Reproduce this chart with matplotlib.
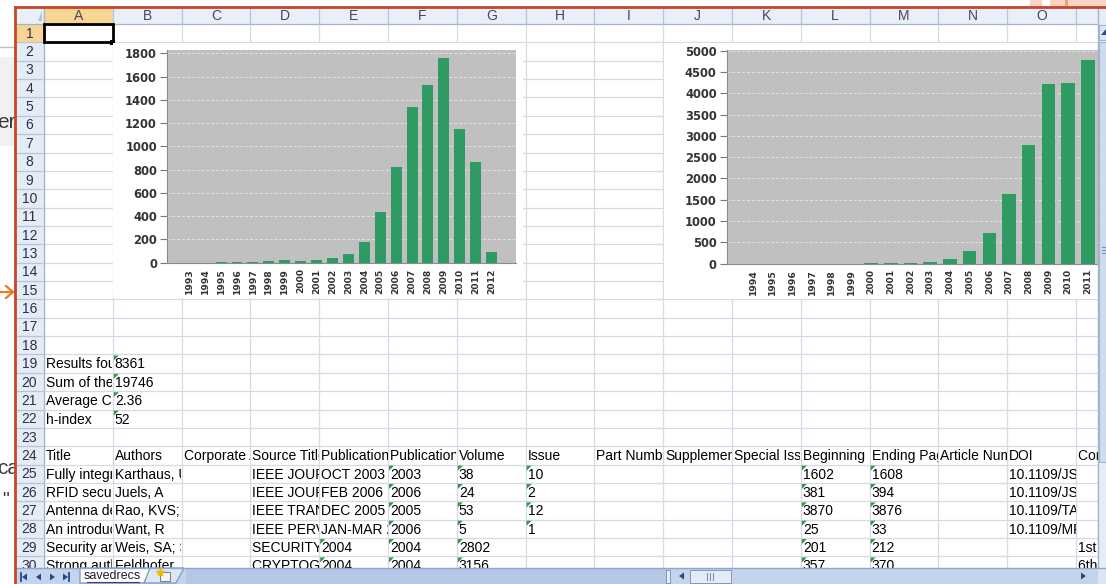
import matplotlib
matplotlib.use("Agg")
import matplotlib.pyplot as plt
from matplotlib.patches import Rectangle, Polygon
import numpy as np

# ---------------- data ----------------
years_pub = [str(y) for y in range(1993, 2013)]
pubs = [1, 1, 2, 3, 10, 12, 20, 12, 20, 40, 75, 182, 440, 820, 1340, 1525, 1755, 1146, 865, 92]
pub_ticks = list(range(0, 1801, 200))

years_cit = [str(y) for y in range(1994, 2013)]
cites = [0, 0, 0, 0, 0, 0, 1, 3, 6, 39, 109, 305, 711, 1625, 2781, 4227, 4250, 4773, 915]
cit_ticks = list(range(0, 5001, 500))

col_letters = list("ABCDEFGHIJKLMNO")
summary_labels = ["Results found:", "Sum of the Times Cited:", "Average Citations per Item:", "h-index"]
summary_values = ["8361", "19746", "2.36", "52"]
headers = ["Title", "Authors", "Corporate Authors", "Source Title", "Publication Date",
           "Publication Year", "Volume", "Issue", "Part Number", "Supplement", "Special Issue",
           "Beginning Page", "Ending Page", "Article Number", "DOI", "Conference Title"]
records = [
    ["Fully integrated CMOS RFID", "Karthaus, U; Fischer, M", "", "IEEE JOURNAL OF SOLID-STATE CIRCUITS",
     "OCT 2003", "2003", "38", "10", "", "", "", "1602", "1608", "", "10.1109/JSSC.2003.817249", ""],
    ["RFID security and privacy", "Juels, A", "", "IEEE JOURNAL ON SELECTED AREAS",
     "FEB 2006", "2006", "24", "2", "", "", "", "381", "394", "", "10.1109/JSAC.2005.861395", ""],
    ["Antenna design for UHF RFID tags", "Rao, KVS; Nikitin, PV", "", "IEEE TRANSACTIONS ON ANTENNAS",
     "DEC 2005", "2005", "53", "12", "", "", "", "3870", "3876", "", "10.1109/TAP.2005.859919", ""],
    ["An introduction to RFID technology", "Want, R", "", "IEEE PERVASIVE COMPUTING",
     "JAN-MAR 2006", "2006", "5", "1", "", "", "", "25", "33", "", "10.1109/MPRV.2006.2", ""],
    ["Security and privacy aspects", "Weis, SA; Sarma, SE", "", "SECURITY IN PERVASIVE COMPUTING",
     "2004", "2004", "2802", "", "", "", "", "201", "212", "", "", "1st International Conference"],
    ["Strong authentication for RFID", "Feldhofer, M", "", "CRYPTOGRAPHIC HARDWARE",
     "2004", "2004", "3156", "", "", "", "", "357", "370", "", "", "6th International Workshop"],
]
sheet_name = "savedrecs"

# ---------------- layout ----------------
W, H = 1106, 584
fig = plt.figure(figsize=(W / 100, H / 100), dpi=100)
fig.patch.set_facecolor("white")

def fr(x0, y0, x1, y1):
    return [x0 / W, 1 - y1 / H, (x1 - x0) / W, (y1 - y0) / H]

bg = fig.add_axes([0, 0, 1, 1], zorder=0)
bg.set_xlim(0, W); bg.set_ylim(H, 0); bg.axis("off")

CX0, CW = 44.0, 68.8
RY0, RH = 24.0, 18.36
GRID_R = 1098
BOT = 568
FONT = "Liberation Sans"

def cx(i):
    return CX0 + i * CW

def ry(r):
    return RY0 + (r - 1) * RH

GRID = "#d3dbe7"
HDR = "#e4ecf7"
HDR_LINE = "#9eb6ce"
SEL = "#f9d594"

# outside (left) fragments
bg.plot([0, 15], [47, 47], color="#bdbdbd", lw=1)
bg.add_patch(Rectangle((0, 57), 15, 89, color="#f1f1f1", lw=0))
for txt, yy in [("er", 122), ("ca", 468)]:
    t = bg.text(-3, yy, txt, fontsize=15, family=FONT, color="#3b3b3b", va="center", ha="left",
                clip_on=True)
    t.set_clip_path(Rectangle((0, 0), 15, H, transform=bg.transData))
t = bg.text(2, 500, '"', fontsize=14, family=FONT, color="#3b3b3b", va="center", clip_on=True)
t.set_clip_path(Rectangle((0, 0), 15, H, transform=bg.transData))
bg.plot([0, 13], [292, 292], color="#f07a22", lw=1.6)
bg.plot([6, 13, 6], [286, 292, 298], color="#f07a22", lw=1.6)
# top-right pinkish bits
bg.add_patch(Rectangle((1030, 0), 12, 7, color="#fbd3c2", lw=0))
bg.add_patch(Rectangle((1050, 0), 56, 7, color="#fbd3c2", lw=0))
bg.add_patch(Rectangle((1065, 0), 3, 7, color="#f2a06a", lw=0))

# sheet cells area
bg.add_patch(Rectangle((15, 8), GRID_R - 15, BOT - 8, color="white", lw=0, zorder=1))
for i in range(17):
    x = cx(i)
    if x <= GRID_R:
        bg.plot([x, x], [RY0, BOT], color=GRID, lw=0.9, zorder=1.5)
for r in range(1, 32):
    y = ry(r) + RH
    if y <= BOT:
        bg.plot([CX0, GRID_R], [y, y], color=GRID, lw=0.9, zorder=1.5)

# column header
bg.add_patch(Rectangle((15, 8), GRID_R - 15, RY0 - 8, color="#e9eff8", lw=0, zorder=2))
bg.add_patch(Rectangle((CX0, 8), CW, RY0 - 8, color=SEL, lw=0, zorder=2))
bg.plot([15, GRID_R], [RY0, RY0], color=HDR_LINE, lw=0.9, zorder=2.5)
for i in range(17):
    x = cx(i)
    if x <= GRID_R:
        bg.plot([x, x], [8, RY0], color="#b4c6de", lw=0.9, zorder=2.5)
for i, L in enumerate(col_letters):
    bg.text(cx(i) + CW / 2, 16.5, L, ha="center", va="center", fontsize=10, family=FONT,
            color="#45455f", zorder=3)
bg.add_patch(Polygon([(38, 21), (42, 21), (42, 11)], color="#b0c3dc", lw=0, zorder=3))

# row header
bg.add_patch(Rectangle((15, RY0), CX0 - 15, BOT - RY0, color=HDR, lw=0, zorder=2))
bg.add_patch(Rectangle((15, ry(1)), CX0 - 15, RH, color=SEL, lw=0, zorder=2))
bg.plot([CX0, CX0], [8, BOT], color=HDR_LINE, lw=0.9, zorder=2.5)
for r in range(1, 32):
    y = ry(r) + RH
    if y <= BOT:
        bg.plot([15, CX0], [y, y], color="#b4c6de", lw=0.9, zorder=2.5)
    if ry(r) < BOT:
        bg.text((15 + CX0) / 2, ry(r) + RH / 2 + 0.5, str(r), ha="center", va="center",
                fontsize=10, family=FONT, color="#303040", zorder=3)

# selected A1
bg.add_patch(Rectangle((CX0, ry(1)), CW, RH, fill=False, ec="black", lw=2, zorder=3))
bg.add_patch(Rectangle((cx(1) - 2.5, ry(2) - 2.5), 5, 5, color="black", lw=0, zorder=3.1))

def cell_text(r, c, s):
    if not s:
        return
    x0, x1 = cx(c), cx(c + 1)
    y0 = ry(r)
    t = bg.text(x0 + 2.0, y0 + RH / 2 + 0.8, s, ha="left", va="center", fontsize=10.0,
                family=FONT, color="black", zorder=3, clip_on=True)
    t.set_clip_path(Rectangle((x0 + 0.5, y0), min(x1, GRID_R) - x0 - 1, RH,
                              transform=bg.transData))

def marker(r, c):
    x0, y0 = cx(c) + 1, ry(r) + 1
    bg.add_patch(Polygon([(x0, y0), (x0 + 5, y0), (x0, y0 + 5)], color="#2e9a3c", lw=0,
                         zorder=3.2))

for k, (lab, val) in enumerate(zip(summary_labels, summary_values)):
    cell_text(19 + k, 0, lab)
    cell_text(19 + k, 1, val)
    marker(19 + k, 1)
for c, h in enumerate(headers):
    cell_text(24, c, h)
for k, rec in enumerate(records):
    r = 25 + k
    for c, s in enumerate(rec):
        cell_text(r, c, s)
        if s and c in (5, 6, 7, 11, 12):
            marker(r, c)
        if s and c == 4 and s.isdigit():
            marker(r, c)

# chart backgrounds (white chart areas over the cells)
bg.add_patch(Rectangle((cx(1) + 0.5, 43), 410, 255, color="white", lw=0, zorder=3.5))
bg.add_patch(Rectangle((cx(9) + 0.5, 43), GRID_R - cx(9), 256, color="white", lw=0, zorder=3.5))

# ---------------- charts ----------------
BAR = "#2f9a62"
PLOT_BG = "#c0c0c0"

def style_chart(ax):
    ax.set_facecolor(PLOT_BG)
    ax.set_axisbelow(True)
    ax.yaxis.grid(True, color="#e2e2e2", linestyle=(0, (3, 2)), linewidth=0.7)
    for s in ("top", "right"):
        ax.spines[s].set_visible(False)
    ax.spines["left"].set_color("#8a8a8a")
    ax.spines["bottom"].set_color("#8a8a8a")
    ax.spines["left"].set_linewidth(0.8)
    ax.spines["bottom"].set_linewidth(0.8)
    ax.tick_params(axis="y", length=5, width=0.8, color="#777777", pad=2.5,
                   labelsize=8.3, labelcolor="#333333")
    ax.tick_params(axis="x", length=0, pad=4, labelsize=6.6, labelcolor="#333333")
    for lbl in ax.get_yticklabels():
        lbl.set_fontweight("bold")
        lbl.set_family("DejaVu Sans")
    for lbl in ax.get_xticklabels():
        lbl.set_fontweight("bold")
        lbl.set_family("DejaVu Sans")

ax1 = fig.add_axes(fr(167.3, 50, 516, 262.7), zorder=2)
x1 = np.arange(len(years_pub))
ax1.bar(x1, pubs, width=0.69, color=BAR, zorder=3)
ax1.set_xlim(-1.38, len(years_pub) - 1 + 1.53)
ax1.set_ylim(0, 1828)
ax1.set_yticks(pub_ticks)
ax1.set_xticks(x1, years_pub, rotation=90)
style_chart(ax1)

ax2 = fig.add_axes(fr(727, 50, 1137, 263.5), zorder=2)
x2 = np.arange(len(years_cit))
ax2.bar(x2, cites, width=0.69, color=BAR, zorder=3)
ax2.set_xlim(-1.32, len(years_cit) - 1 + 1.5)
ax2.set_ylim(0, 5018)
ax2.set_yticks(cit_ticks)
ax2.set_xticks(x2, years_cit, rotation=90)
style_chart(ax2)

# ---------------- overlay (frame, scrollbars, tabs) ----------------
ov = fig.add_axes([0, 0, 1, 1], zorder=5)
ov.set_xlim(0, W); ov.set_ylim(H, 0); ov.axis("off")
ov.patch.set_alpha(0)

# vertical scrollbar
ov.add_patch(Rectangle((GRID_R, 8), W - GRID_R, BOT - 8, color="#e6edf7", lw=0))
ov.plot([GRID_R, GRID_R], [8, BOT], color="#9eb6ce", lw=1)
ov.add_patch(Rectangle((GRID_R + 1, 25), W - GRID_R, 15, color="#dbe6f4", ec="#9eb6ce", lw=0.8))
ov.add_patch(Polygon([(1101, 35), (1106, 35), (1106, 29)], color="#2a4f86", lw=0))
ov.add_patch(Rectangle((GRID_R + 1, 42), W - GRID_R, 420, color="#cfdcef", ec="#9eb6ce", lw=0.8))
for yy in (247, 250, 253):
    ov.plot([1102, 1106], [yy, yy], color="#7a92b8", lw=0.8)

# bottom bar
ov.add_patch(Rectangle((15, BOT), W - 15, H - BOT, color="#c3d4ec", lw=0))
ov.plot([15, W], [BOT, BOT], color="#8da8cf", lw=1)
ov.add_patch(Rectangle((186, BOT + 1), 480, H - BOT, color="#b4c8e5", lw=0))
NAV = "#234a85"
ov.plot([21, 21], [573, 581], color=NAV, lw=1.3)
ov.add_patch(Polygon([(22, 577), (27, 573.5), (27, 580.5)], color=NAV, lw=0))
ov.add_patch(Polygon([(36, 577), (41, 573.5), (41, 580.5)], color=NAV, lw=0))
ov.add_patch(Polygon([(55, 577), (50, 573.5), (50, 580.5)], color=NAV, lw=0))
ov.add_patch(Polygon([(68, 577), (63, 573.5), (63, 580.5)], color=NAV, lw=0))
ov.plot([69, 69], [573, 581], color=NAV, lw=1.3)
ov.add_patch(Polygon([(80, BOT), (80, 583), (144, 583), (152, BOT)], fc="white", ec="#7f97bd", lw=0.9))
ov.text(112, 576, sheet_name, ha="center", va="center", fontsize=9, family=FONT, color="#1a1a3a")
ov.plot([87, 139], [582, 582], color="#404060", lw=0.8)
ov.add_patch(Polygon([(150, BOT), (144, 583), (176, 583), (184, BOT)], fc="#dde7f4", ec="#7f97bd", lw=0.9))
ov.add_patch(Rectangle((160, 572), 10, 9, fc="#f4f4f4", ec="#7a7a7a", lw=0.7))
ov.plot([160], [572], marker="*", color="#f5b800", ms=6)
ov.add_patch(Rectangle((666, BOT + 2), 4, 13, fc="#e8eef7", ec="#7f97bd", lw=0.7))
ov.add_patch(Polygon([(679, 576), (684, 572.5), (684, 579.5)], color=NAV, lw=0))
ov.add_patch(Rectangle((690, BOT + 2), 41, 13, fc="#e3ebf7", ec="#7f97bd", lw=0.7))
for xx in (707, 710, 713):
    ov.plot([xx, xx], [573, 580], color="#7a92b8", lw=0.8)
ov.add_patch(Polygon([(1086, 576), (1081, 572.5), (1081, 579.5)], color=NAV, lw=0))
ov.add_patch(Rectangle((GRID_R, BOT), W - GRID_R, H - BOT, color="#dbe5f3", lw=0))

# red frame
ov.plot([15, 15], [7, H], color="#c8442a", lw=2)
ov.plot([15, W], [7, 7], color="#c8442a", lw=2)

fig.savefig("out.png", dpi=100)
